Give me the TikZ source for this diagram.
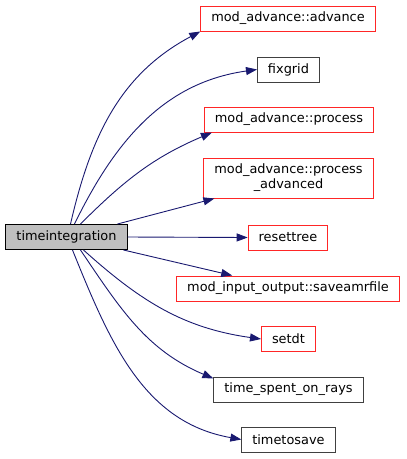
\documentclass[tikz,border=0pt]{standalone}
\usepackage{fontspec}
\setmainfont{DejaVu Sans}
\usetikzlibrary{arrows.meta, positioning, calc}
\definecolor{callblue}{HTML}{191970}
\definecolor{rootgrey}{HTML}{BFBFBF}
\definecolor{boxgrey}{HTML}{404040}

\begin{document}
\begin{tikzpicture}[x=1pt, y=-1pt,
    fn/.style={draw=boxgrey, line width=1pt, fill=white, inner xsep=10.5pt,
               inner ysep=0pt, minimum height=25pt, align=center,
               font=\fontsize{12.9}{15}\selectfont},
    fnred/.style={fn, draw=red!85},
    fnroot/.style={fn, draw=black, fill=rootgrey},
    call/.style={draw=callblue, line width=0.9pt,
                 -{Triangle[length=11pt, width=8pt]}}]
  \useasboundingbox (0,0) rectangle (407,459);

  % Caller
  \node[fnroot] (root) at (66.5,237) {timeintegration};

  % Callees
  \node[fnred] (adv)   at (288,18.5)  {mod\_advance::advance};
  \node[fn]    (fix)   at (288.5,69.5) {fixgrid};
  \node[fnred] (proc)  at (289,119.5) {mod\_advance::process};
  \node[fnred, minimum height=40pt] (padv) at (288.5,178)
        {mod\_advance::process\\\_advanced};
  \node[fnred] (reset) at (288,237.5) {resettree};
  \node[fnred] (save)  at (288,288.5) {mod\_input\_output::saveamrfile};
  \node[fnred] (setdt) at (288.5,339) {setdt};
  \node[fn]    (rays)  at (288.5,389.5) {time\_spent\_on\_rays};
  \node[fn]    (tsave) at (288.5,439.5) {timetosave};

  % Calls
  \draw[call] ($(root.north west)+(65,0)$) to[out=77, in=208] (adv.south west);
  \draw[call] ($(root.north west)+(69,0)$) to[out=64, in=188] (fix.west);
  \draw[call] ($(root.north west)+(75,0)$) to[out=45, in=203]
    ($(proc.south west)+(8,0)$);
  \draw[call] ($(root.north west)+(112,0)$) -- ($(padv.south west)+(11,0)$);
  \draw[call] (root.east) -- (reset.west);
  \draw[call] ($(root.south west)+(118,0)$) -- ($(save.north west)+(56,0)$);
  \draw[call] ($(root.south west)+(78,0)$) to[out=-42, in=172] (setdt.west);
  \draw[call] ($(root.south west)+(75,0)$) to[out=-56, in=157]
    ($(rays.north west)+(0,2)$);
  \draw[call] ($(root.south west)+(67,0)$) to[out=-68, in=170] (tsave.west);
\end{tikzpicture}
\end{document}
